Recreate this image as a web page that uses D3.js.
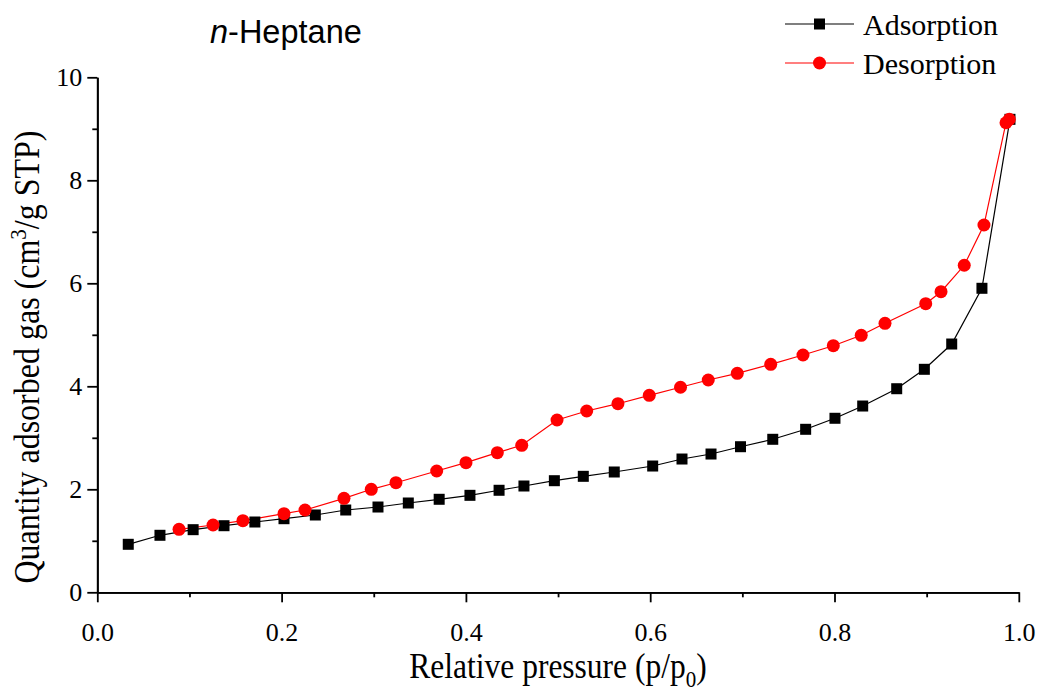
<!DOCTYPE html>
<html><head><meta charset="utf-8">
<script src="https://cdn.jsdelivr.net/npm/d3@7"></script>
<style>body{margin:0;background:#fff}svg{display:block}</style>
</head><body>
<svg id="c" width="1037" height="691"></svg>
<script>
const adsX = [0.0336,0.068,0.104,0.1375,0.171,0.2026,0.2366,0.2696,0.3046,0.3375,0.371,0.4044,0.436,0.463,0.496,0.5274,0.561,0.6027,0.6345,0.666,0.698,0.733,0.7687,0.8005,0.8306,0.8675,0.8975,0.9272,0.960,0.9904];
const adsY = [0.932,1.107,1.216,1.293,1.365,1.429,1.501,1.598,1.656,1.734,1.806,1.883,1.981,2.064,2.167,2.252,2.336,2.452,2.588,2.685,2.827,2.971,3.165,3.379,3.617,3.953,4.330,4.821,5.903,9.184];
const desX = [0.0887,0.1256,0.158,0.2026,0.2254,0.2677,0.2973,0.3241,0.3683,0.4001,0.4341,0.4606,0.4989,0.5311,0.565,0.599,0.6329,0.663,0.6945,0.7308,0.7658,0.7987,0.829,0.8548,0.899,0.9156,0.9408,0.9622,0.9861,0.9897];
const desY = [1.223,1.307,1.390,1.526,1.598,1.825,2.0,2.128,2.355,2.517,2.711,2.854,3.346,3.520,3.662,3.825,3.981,4.122,4.252,4.427,4.608,4.788,4.990,5.223,5.604,5.837,6.350,7.132,9.118,9.184];
const xTicks = [0.0,0.2,0.4,0.6,0.8,1.0];
const xMinor = [0.1,0.3,0.5,0.7,0.9];
const yTicks = [0,2,4,6,8,10];
const yMinor = [1,3,5,7,9];
const seriesNames = ["Adsorption","Desorption"];

const svg = d3.select("#c");
const L=97.3, R=1018.8, T=77.3, B=592.3;
const x = d3.scaleLinear().domain([0,1]).range([L,R]);
const y = d3.scaleLinear().domain([0,10]).range([B,T]);
const serif = "'Liberation Serif','Times New Roman',serif";

// axes
const xa = svg.append("g").attr("transform",`translate(0,${B})`)
  .call(d3.axisBottom(x).tickValues(xTicks).tickFormat(d3.format(".1f")).tickSize(10).tickSizeOuter(0));
const xm = svg.append("g").attr("transform",`translate(0,${B})`)
  .call(d3.axisBottom(x).tickValues(xMinor).tickFormat("").tickSize(5).tickSizeOuter(0));
const ya = svg.append("g").attr("transform",`translate(${L},0)`)
  .call(d3.axisLeft(y).tickValues(yTicks).tickFormat(d3.format("d")).tickSize(10).tickSizeOuter(0));
const ym = svg.append("g").attr("transform",`translate(${L},0)`)
  .call(d3.axisLeft(y).tickValues(yMinor).tickFormat("").tickSize(5).tickSizeOuter(0));
[xa,xm,ya,ym].forEach(g=>{
  g.selectAll("path,line").attr("stroke","#000").attr("stroke-width",1.8);
  g.selectAll("text").attr("font-family",serif).attr("font-size",26).attr("fill","#000");
});
xa.selectAll("text").attr("y",0).attr("dy",49);
ya.selectAll("text").attr("x",-15).attr("dy","0.33em");

const line = d3.line().x(d=>x(d[0])).y(d=>y(d[1]));
const ads = adsX.map((v,i)=>[v,adsY[i]]);
const des = desX.map((v,i)=>[v,desY[i]]);

svg.append("path").datum(ads).attr("d",line).attr("fill","none").attr("stroke","#000").attr("stroke-width",1.2);
svg.append("path").datum(des).attr("d",line).attr("fill","none").attr("stroke","#ff0000").attr("stroke-width",1.2);

const S=11;
svg.append("g").selectAll("rect").data(ads).join("rect")
  .attr("x",d=>x(d[0])-S/2).attr("y",d=>y(d[1])-S/2).attr("width",S).attr("height",S).attr("fill","#000");
svg.append("g").selectAll("circle").data(des).join("circle")
  .attr("cx",d=>x(d[0])).attr("cy",d=>y(d[1])).attr("r",6.5).attr("fill","#ff0000");

// title
const t = svg.append("text").attr("x",210).attr("y",43).attr("font-family","'Liberation Sans',Arial,sans-serif").attr("font-size",32.5).attr("fill","#000");
t.append("tspan").attr("font-style","italic").text("n");
t.append("tspan").text("-Heptane");

// legend
const lg = svg.append("g");
const legY = [24,63];
const legC = ["#000","#ff0000"];
seriesNames.forEach((n,i)=>{
  lg.append("line").attr("x1",785).attr("x2",854).attr("y1",legY[i]).attr("y2",legY[i]).attr("stroke",legC[i]).attr("stroke-width",1.2);
  if(i===0) lg.append("rect").attr("x",819.5-S/2).attr("y",legY[i]-S/2).attr("width",S).attr("height",S).attr("fill","#000");
  else lg.append("circle").attr("cx",819.5).attr("cy",legY[i]).attr("r",6.5).attr("fill","#ff0000");
  lg.append("text").attr("x",863).attr("y",legY[i]+11).attr("font-family",serif).attr("font-size",30).attr("fill","#000").text(n);
});

// axis titles
const xt = svg.append("text").attr("transform","translate(558,678) scale(1,1.12)").attr("text-anchor","middle").attr("font-family",serif).attr("font-size",31.5).attr("fill","#000");
xt.append("tspan").text("Relative pressure (p/p");
xt.append("tspan").attr("font-size",21).attr("dy",8).text("0");
xt.append("tspan").attr("dy",-8).text(")");

const yt = svg.append("text").attr("transform",`translate(39,357) rotate(-90) scale(1,1.12)`).attr("text-anchor","middle").attr("font-family",serif).attr("font-size",32).attr("fill","#000");
yt.append("tspan").text("Quantity adsorbed gas (cm");
yt.append("tspan").attr("font-size",21).attr("dy",-12).text("3");
yt.append("tspan").attr("dy",12).text("/g STP)");
</script>
</body></html>
